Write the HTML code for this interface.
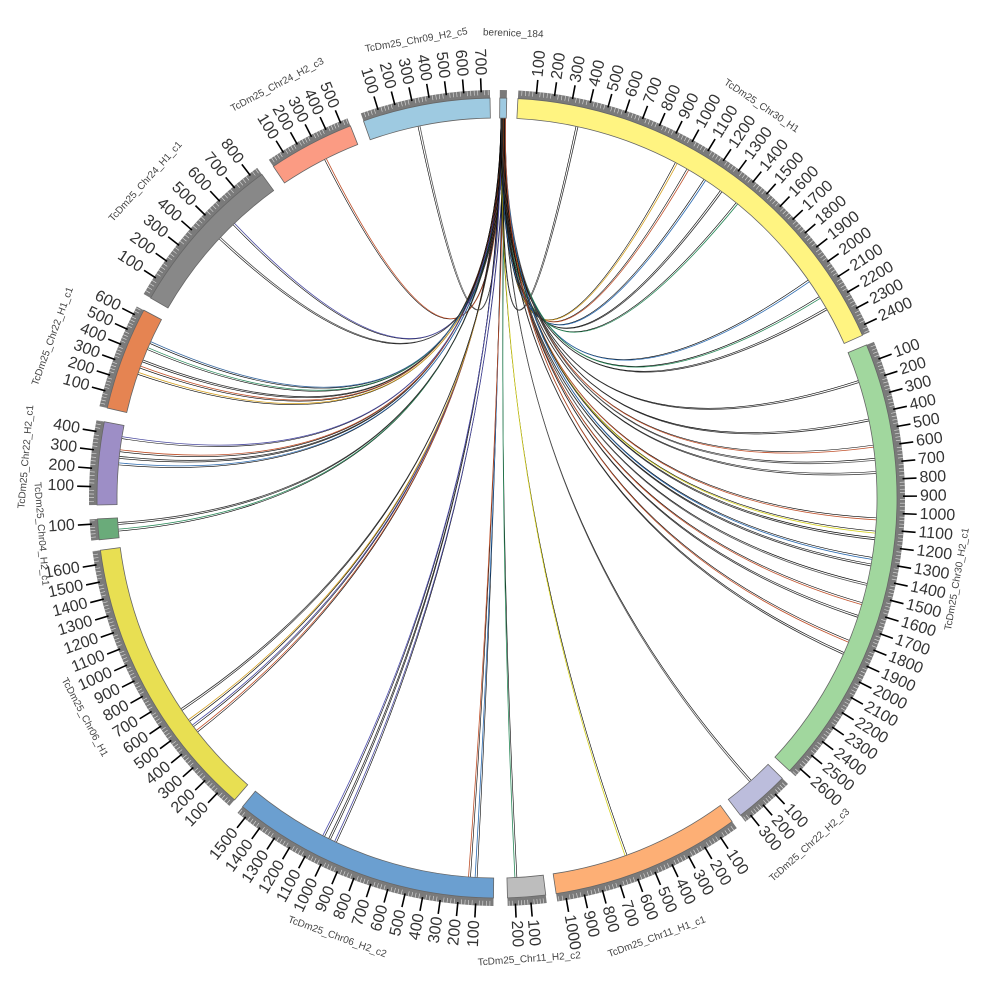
<!DOCTYPE html>
<html><head><meta charset="utf-8">
<style>
html,body{margin:0;padding:0;background:#fff;width:1000px;height:1000px;overflow:hidden}
svg{display:block}
text{font-family:"Liberation Sans",sans-serif}
</style></head>
<body>
<svg id="s" width="1000" height="1000" viewBox="0 0 1000 1000" xmlns="http://www.w3.org/2000/svg">
<g id="links" fill="none"></g>
<g id="segs"></g>
<g id="ticks"></g>
<g id="labels" font-size="10" fill="#444">
<text data-a="2" data-r="462">berenice_184</text>
<text data-a="34" data-r="470">TcDm25_Chr30_H1</text>
<text data-a="100" data-r="470">TcDm25_Chr30_H2_c1</text>
<text data-a="138" data-r="470">TcDm25_Chr22_H2_c3</text>
<text data-a="160" data-r="470">TcDm25_Chr11_H1_c1</text>
<text data-a="176" data-r="465">TcDm25_Chr11_H2_c2</text>
<text data-a="200" data-r="470">TcDm25_Chr06_H2_c2</text>
<text data-a="242" data-r="470">TcDm25_Chr06_H1</text>
<text data-a="265.5" data-r="460">TcDm25_Chr04_H2_c1</text>
<text data-a="275" data-r="470">TcDm25_Chr22_H2_c1</text>
<text data-a="290" data-r="470">TcDm25_Chr22_H1_c1</text>
<text data-a="312" data-r="470">TcDm25_Chr24_H1_c1</text>
<text data-a="332" data-r="465">TcDm25_Chr24_H2_c3</text>
<text data-a="350" data-r="462">TcDm25_Chr09_H2_c5</text>
</g>
</svg>
<script>
var cx=497,cy=498,R1=380,R2=400,R3=408;
var NS="http://www.w3.org/2000/svg";
function P(a,r){var t=a*Math.PI/180;return [cx+r*Math.sin(t),cy-r*Math.cos(t)];}
function el(n,at,par){var e=document.createElementNS(NS,n);for(var k in at)e.setAttribute(k,at[k]);par.appendChild(e);return e;}
function arc(a0,a1,r0,r1){var p=P(a0,r1),q=P(a1,r1),u=P(a1,r0),v=P(a0,r0);var l=(a1-a0)>180?1:0;
return "M"+p+"A"+r1+","+r1+" 0 "+l+" 1 "+q+"L"+u+"A"+r0+","+r0+" 0 "+l+" 0 "+v+"Z";}
var segs=[
[0.4,1.4,0,"#9ecae1"],
[3,66,2450,"#fff481"],
[67.5,133,2650,"#a1d79e"],
[134.5,142.5,350,"#bcbddc"],
[144,171.5,1050,"#fdaf75"],
[173,178.5,250,"#bdbdbd"],
[180.5,219.5,1550,"#6b9fd0"],
[221,262.5,1680,"#e8df52"],
[264,267,130,"#6aab7a"],
[269,281,460,"#9d8ec6"],
[283,298,650,"#e58452"],
[300,324,850,"#888888"],
[326,338.5,550,"#fb9b83"],
[340.5,359,750,"#9ecae1"]];
var G=document.getElementById("segs"),T=document.getElementById("ticks"),L=document.getElementById("links");
segs.forEach(function(s){
 el("path",{d:arc(s[0],s[1],R2,R3),fill:"#7a7a7a"},G);
 el("path",{d:arc(s[0],s[1],R1,R2),fill:s[3],stroke:"#666","stroke-width":"0.8"},G);
 if(!s[2])return;
 var per=(s[1]-s[0])/s[2];
 for(var v=100;v<=s[2];v+=100){
  var a=s[0]+v*per,p=P(a,R3-2),q=P(a,R3+12);
  el("line",{x1:p[0],y1:p[1],x2:q[0],y2:q[1],stroke:"#000","stroke-width":"1.6"},T);
  var t=P(a,R3+15);var right=(a%360)<180;
  var rot=right?a-90:a+90;
  var tx=el("text",{x:t[0],y:t[1],"font-size":"16",fill:"#333","text-anchor":right?"start":"end","dominant-baseline":"central",transform:"rotate("+rot+" "+t[0]+" "+t[1]+")"},T);
  tx.textContent=v;
 }
 for(var v=20;v<=s[2];v+=20){if(v%100==0)continue;var a=s[0]+v*per,p=P(a,R2+3),q=P(a,R3);
  el("line",{x1:p[0],y1:p[1],x2:q[0],y2:q[1],stroke:"#ddd","stroke-width":"0.6"},T);}
});
var targets=[[348,"#555"],[333,"#c0502a"],[316,"#4a4aa0"],[313,"#444"],[289,"#d4a020"],[290,"#c0502a"],[291,"#333"],[293,"#2a8a5a"],[294,"#3a6aa0"],[275,"#2a6ab0"],[276,"#333"],[277,"#c0502a"],[279,"#4a4aa0"],[265,"#2a8a5a"],[266,"#333"],
[232,"#c0502a"],[233,"#4a4aa0"],[234,"#d4a020"],[236,"#333"],[205,"#4a4aa0"],[206,"#333"],[207,"#5050b0"],[183,"#2a6ab0"],[184,"#c0502a"],[177,"#2a8a5a"],[160,"#d4d020"],[138,"#555"],
[12,"#333"],[28,"#d4a020"],[30,"#c0502a"],[33,"#2a6ab0"],[36,"#333"],[39,"#2a8a5a"],[55,"#2a6ab0"],[58,"#2a8a5a"],[60,"#333"],
[72,"#333"],[78,"#333"],[82,"#c0502a"],[84,"#555"],[86,"#333"],[93,"#c0502a"],[95,"#d4d020"],[96,"#333"],[99,"#2a6ab0"],[100,"#333"],[103,"#555"],[106,"#c0502a"],[108,"#333"],[112,"#c0502a"],[114,"#333"]];
targets.forEach(function(t,i){
 var a0=0.6+ (i%5)*0.15;var p=P(a0,R1),q=P(t[0],R1);
 var c=P(0,0);
 var d="M"+p+"Q"+c+" "+q;
 el("path",{d:d,stroke:"#000","stroke-width":"0.6"},L);
 var q2=P(t[0]+0.3,R1);
 el("path",{d:"M"+P(a0+0.1,R1)+"Q"+c+" "+q2,stroke:t[1],"stroke-width":"0.8"},L);
});
document.querySelectorAll("#labels text").forEach(function(e){
 var a=+e.getAttribute("data-a"),r=+e.getAttribute("data-r");var p=P(a,r);
 var rot=(a>90&&a<270)?a-180:a;
 e.setAttribute("x",p[0]);e.setAttribute("y",p[1]);e.setAttribute("text-anchor","middle");
 e.setAttribute("transform","rotate("+rot+" "+p[0]+" "+p[1]+")");
});
</script>
</body></html>
